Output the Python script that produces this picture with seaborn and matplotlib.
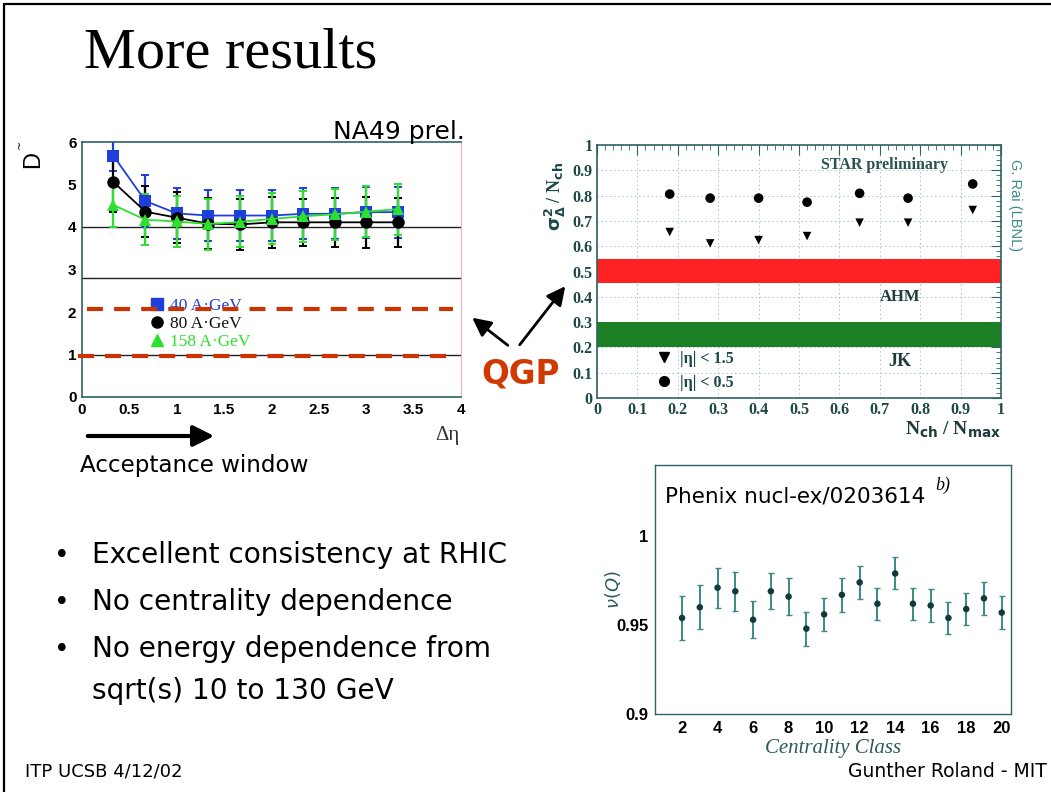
import numpy as np
import pandas as pd
import matplotlib
matplotlib.use("Agg")
import matplotlib.pyplot as plt
import seaborn as sns
from matplotlib.lines import Line2D
from matplotlib.patches import FancyArrowPatch
from matplotlib.ticker import MultipleLocator

# ---------------- data ----------------
# NA49 (left panel)
deta = [0.33, 0.67, 1.0, 1.33, 1.67, 2.0, 2.33, 2.67, 3.0, 3.33]
d_40 = [5.68, 4.61, 4.32, 4.27, 4.27, 4.27, 4.31, 4.31, 4.35, 4.35]
d_40_err = [0.36, 0.62, 0.6, 0.6, 0.6, 0.6, 0.6, 0.6, 0.6, 0.6]
d_80 = [5.06, 4.36, 4.22, 4.08, 4.06, 4.11, 4.11, 4.11, 4.11, 4.11]
d_80_err = [0.7, 0.6, 0.6, 0.6, 0.6, 0.6, 0.56, 0.58, 0.6, 0.58]
d_158 = [4.52, 4.17, 4.13, 4.07, 4.12, 4.19, 4.25, 4.3, 4.36, 4.42]
d_158_err = [0.53, 0.6, 0.6, 0.6, 0.6, 0.6, 0.6, 0.6, 0.6, 0.6]
na49_labels = ["40 A\u00b7GeV", "80 A\u00b7GeV", "158 A\u00b7GeV"]
na49_ref_lines = [4.0, 2.8, 1.0]
qgp_limits = [2.08, 0.97]

# STAR (top right panel)
nch_frac = [0.18, 0.28, 0.40, 0.52, 0.65, 0.77, 0.93]
sig_eta05 = [0.806, 0.79, 0.79, 0.774, 0.809, 0.79, 0.846]
sig_eta15 = [0.656, 0.611, 0.624, 0.64, 0.693, 0.693, 0.743]
star_labels = ["|\u03b7| < 1.5", "|\u03b7| < 0.5"]
ahm_band = (0.455, 0.55)
jk_band = (0.2, 0.3)

# PHENIX (bottom right panel)
cent_class = list(range(2, 21))
nu_q = [0.954, 0.960, 0.971, 0.969, 0.953, 0.969, 0.966, 0.948, 0.956, 0.967,
        0.974, 0.962, 0.979, 0.962, 0.961, 0.954, 0.959, 0.965, 0.957]
nu_q_err = [0.0126, 0.0123, 0.0112, 0.0111, 0.0105, 0.010, 0.0102, 0.0095, 0.0094,
            0.0097, 0.0093, 0.009, 0.009, 0.009, 0.009, 0.009, 0.009, 0.0094, 0.0093]

bullets = [["Excellent consistency at RHIC"], ["No centrality dependence"],
           ["No energy dependence from", "sqrt(s) 10 to 130 GeV"]]

# ---------------- style ----------------
sns.set_style("white")
plt.rcParams['font.family'] = ['DejaVu Sans']
plt.rcParams['lines.scale_dashes'] = False
for k in ['text.color', 'axes.labelcolor', 'xtick.color', 'ytick.color']:
    plt.rcParams[k] = 'black'

W, H = 1051, 792
fig = plt.figure(figsize=(W / 100, H / 100), dpi=100)
fig.patch.set_facecolor("white")

def fx(x):
    return x / W

def fy(y):
    return 1 - y / H

def axbox(x0, y0, x1, y1):
    return [fx(x0), fy(y1), fx(x1) - fx(x0), fy(y0) - fy(y1)]

teal = "#2d6262"
blue = "#1f3fdc"
green = "#2ee02e"

# slide frame
fig.add_artist(Line2D([fx(3.5), fx(3.5)], [0, fy(3.5)], color="black", lw=1.6))
fig.add_artist(Line2D([fx(3.5), 1], [fy(3.5), fy(3.5)], color="black", lw=1.6))

# title
fig.text(fx(84), fy(67), "More results", family="Liberation Serif", fontsize=42,
         ha="left", va="baseline", color="black")

# ---------------- NA49 panel ----------------
ax1 = fig.add_axes(axbox(82, 142, 461, 397))
df_na49 = pd.DataFrame({"deta": deta * 3,
                        "D": d_40 + d_80 + d_158,
                        "energy": [na49_labels[0]] * 10 + [na49_labels[1]] * 10 + [na49_labels[2]] * 10})
pal = {na49_labels[0]: blue, na49_labels[1]: "black", na49_labels[2]: green}
mk = {na49_labels[0]: "s", na49_labels[1]: "o", na49_labels[2]: "^"}
for lab, vals, errs in [(na49_labels[0], d_40, d_40_err),
                        (na49_labels[1], d_80, d_80_err),
                        (na49_labels[2], d_158, d_158_err)]:
    ax1.errorbar(deta, vals, yerr=errs, fmt="none", ecolor=pal[lab], elinewidth=1.6,
                 capsize=3, capthick=1.4, zorder=3)
sns.lineplot(data=df_na49, x="deta", y="D", hue="energy", style="energy",
             palette=pal, markers=mk, dashes=False, markersize=9, markeredgewidth=0,
             linewidth=1.3, ax=ax1, legend=False, zorder=4)
for yv in na49_ref_lines:
    ax1.axhline(yv, color="#222222", lw=1.0, zorder=2)
ax1.plot([0.05, 3.92], [qgp_limits[0]] * 2, color="#cc3300", lw=3, dashes=(11.5, 8),
         clip_on=False, zorder=6)
ax1.plot([-0.04, 3.85], [qgp_limits[1]] * 2, color="#cc3300", lw=3, dashes=(11.5, 8),
         clip_on=False, zorder=6)
ax1.set_xlim(0, 4)
ax1.set_ylim(0, 6)
ax1.set_xlabel("")
ax1.set_ylabel("")
ax1.xaxis.set_minor_locator(MultipleLocator(0.1))
ax1.yaxis.set_major_locator(MultipleLocator(1))
ax1.yaxis.set_minor_locator(MultipleLocator(0.2))
ax1.set_xticks([0, 0.5, 1, 1.5, 2, 2.5, 3, 3.5, 4])
ax1.set_xticklabels(["0", "0.5", "1", "1.5", "2", "2.5", "3", "3.5", "4"])
ax1.tick_params(which="both", direction="in", color=teal, top=False, right=False,
                labelsize=11, pad=4, labelcolor="black")
ax1.tick_params(which="major", length=8, width=1)
ax1.tick_params(which="minor", length=4, width=0.8)
for t in ax1.get_xticklabels() + ax1.get_yticklabels():
    t.set_fontweight("bold")
    t.set_family("Liberation Sans")
for s in ["left", "bottom", "top"]:
    ax1.spines[s].set_color(teal)
    ax1.spines[s].set_linewidth(1.2)
ax1.spines["right"].set_color("#e8b4b4")
handles = [Line2D([], [], ls="none", marker=mk[l], color=pal[l], markersize=8) for l in na49_labels]
leg = ax1.legend(handles, na49_labels, loc="upper left", bbox_to_anchor=(0.135, 0.45),
                 frameon=False, handlelength=1.0, handletextpad=0.25, labelspacing=0.1,
                 prop={"family": "Liberation Serif", "size": 12.5},
                 labelcolor=[blue, "#111111", green])
fig.text(fx(33), fy(160), "D", rotation=90, fontsize=17, ha="center", va="center",
         family="Liberation Sans")
fig.text(fx(20), fy(144), "~", rotation=90, fontsize=8, ha="center", va="center")
fig.text(fx(460), fy(440), "\u0394\u03b7", family="Liberation Serif", fontsize=15,
         ha="right", va="baseline", color="#333333")
fig.text(fx(333), fy(139), "NA49 prel.", fontsize=18, ha="left", va="baseline")

# acceptance window arrow
fig.add_artist(FancyArrowPatch((fx(85), fy(436)), (fx(217), fy(436)), transform=fig.transFigure,
                               arrowstyle="-|>,head_length=0.9,head_width=0.45",
                               mutation_scale=14, lw=3, color="black"))
fig.text(fx(80), fy(472), "Acceptance window", fontsize=16.6, ha="left", va="baseline")

# QGP
fig.text(fx(521), fy(383), "QGP", fontsize=23.5, fontweight="bold", color="#d03a00",
         ha="center", va="baseline")
fig.add_artist(FancyArrowPatch((fx(510), fy(347)), (fx(470), fy(316)), transform=fig.transFigure,
                               arrowstyle="-|>,head_length=0.8,head_width=0.4",
                               mutation_scale=14, lw=2, color="black"))
fig.add_artist(FancyArrowPatch((fx(518), fy(347)), (fx(567), fy(284)), transform=fig.transFigure,
                               arrowstyle="-|>,head_length=0.8,head_width=0.4",
                               mutation_scale=14, lw=2, color="black"))

# ---------------- STAR panel ----------------
ax2 = fig.add_axes(axbox(597, 145, 1001, 398))
ax2.axhspan(*ahm_band, color="#ff2222", lw=0, zorder=2)
ax2.axhspan(*jk_band, color="#1d7f24", lw=0, zorder=2)
sns.scatterplot(x=nch_frac, y=sig_eta05, marker="o", color="black", s=48, edgecolor="none",
                ax=ax2, zorder=4)
sns.scatterplot(x=nch_frac, y=sig_eta15, marker="v", color="black", s=38, edgecolor="none",
                ax=ax2, zorder=4)
ax2.set_xlim(0, 1)
ax2.set_ylim(0, 1)
ax2.xaxis.set_minor_locator(MultipleLocator(0.02))
ax2.yaxis.set_minor_locator(MultipleLocator(0.02))
ax2.set_xticks(np.round(np.arange(0, 1.01, 0.1), 1))
ax2.set_xticklabels(["0", "0.1", "0.2", "0.3", "0.4", "0.5", "0.6", "0.7", "0.8", "0.9", "1"])
ax2.set_yticks(np.round(np.arange(0, 1.01, 0.1), 1))
ax2.set_yticklabels(["0", "0.1", "0.2", "0.3", "0.4", "0.5", "0.6", "0.7", "0.8", "0.9", "1"])
ax2.grid(True, which="major", color="#9cc4c4", lw=0.7, ls=(0, (1, 2)), zorder=1)
ax2.set_axisbelow(True)
ax2.tick_params(which="both", direction="in", color=teal, top=True, right=True,
                labelsize=11.5, labelcolor="#1d4848", pad=3)
ax2.tick_params(which="major", length=7, width=0.8)
ax2.tick_params(which="minor", length=3.5, width=0.6)
for t in ax2.get_xticklabels() + ax2.get_yticklabels():
    t.set_fontweight("bold")
    t.set_family("Liberation Serif")
for s in ax2.spines.values():
    s.set_color(teal)
    s.set_linewidth(1.2)
h2 = [Line2D([], [], ls="none", marker="v", color="black", markersize=7),
      Line2D([], [], ls="none", marker="o", color="black", markersize=7)]
ax2.legend(h2, star_labels, loc="lower left", bbox_to_anchor=(0.115, -0.028), frameon=False,
           handlelength=0.8, handletextpad=0.6, labelspacing=0.5,
           prop={"family": "Liberation Serif", "size": 11.5, "weight": "bold"},
           labelcolor="#1d4848")
ax2.text(0.555, 0.92, "STAR preliminary", fontsize=11.5, fontweight="bold", family="Liberation Serif",
         color="#2a5252", ha="left", va="center", zorder=5)
ax2.text(0.70, 0.40, "AHM", fontsize=12, fontweight="bold", family="Liberation Serif",
         color="#1d3c3c", ha="left", va="center", zorder=5)
ax2.text(0.72, 0.145, "JK", fontsize=13, fontweight="bold", family="Liberation Serif",
         color="#1d3c3c", ha="left", va="center", zorder=5)
fig.text(fx(555), fy(196), r"$\mathbf{\sigma^2_\Delta}$ / N$_{\mathbf{ch}}$", rotation=90,
         fontsize=13, fontweight="bold", family="Liberation Serif", color="#1d4848",
         ha="center", va="center")
fig.text(fx(1001), fy(420), r"N$_{\mathbf{ch}}$ / N$_{\mathbf{max}}$", fontsize=14,
         fontweight="bold", family="Liberation Serif", color="#1d3c3c", ha="right", va="top")
fig.text(fx(1015), fy(205), "G. Rai (LBNL)", rotation=-90, fontsize=10.5, color="#3a8a8a",
         family="Liberation Sans", ha="center", va="center")

# ---------------- PHENIX panel ----------------
ax3 = fig.add_axes(axbox(655.4, 465, 1010.6, 714))
ax3.errorbar(cent_class, nu_q, yerr=nu_q_err, fmt="none", ecolor="#3a8a88", elinewidth=1.4,
             capsize=2, capthick=1, zorder=3)
sns.scatterplot(x=cent_class, y=nu_q, color="#123a3a", s=22, edgecolor="none", ax=ax3, zorder=4)
ax3.set_xlim(0.5, 20.5)
ax3.set_ylim(0.9, 1.04)
ax3.set_xticks(list(range(2, 21, 2)))
ax3.xaxis.set_minor_locator(MultipleLocator(0.5))
ax3.set_yticks([0.9, 0.95, 1.0])
ax3.set_yticklabels(["0.9", "0.95", "1"])
ax3.yaxis.set_minor_locator(MultipleLocator(0.01))
ax3.tick_params(which="both", direction="in", color=teal, top=False, right=False,
                labelsize=12, pad=5, labelcolor="black")
ax3.tick_params(which="major", length=8, width=0.9)
ax3.tick_params(which="minor", length=4, width=0.8)
for t in ax3.get_xticklabels() + ax3.get_yticklabels():
    t.set_fontweight("bold")
    t.set_family("Liberation Sans")
for s in ax3.spines.values():
    s.set_color(teal)
    s.set_linewidth(1.0)
ax3.set_xlabel("Centrality Class", family="Liberation Serif", style="italic", fontsize=15,
               color="#2f5a5a", labelpad=2)
fig.text(fx(613), fy(590), r"$\nu(Q)$", rotation=90, fontsize=13, color="#2f5a5a",
         ha="center", va="center", family="Liberation Serif")
fig.text(fx(665), fy(503), "Phenix nucl-ex/0203614", fontsize=15.5, ha="left", va="baseline")
fig.text(fx(935), fy(490), "b)", fontsize=13, style="italic", family="Liberation Serif",
         ha="left", va="baseline")

# ---------------- bullets & footer ----------------
ys = [563, 610, 657]
for yb, lines in zip(ys, bullets):
    fig.text(fx(62), fy(yb), "\u2022", fontsize=19, ha="center", va="baseline")
    for i, txt in enumerate(lines):
        fig.text(fx(92), fy(yb + 42 * i), txt, fontsize=20.2, ha="left", va="baseline")
fig.text(fx(25), fy(777), "ITP UCSB 4/12/02", fontsize=13, ha="left", va="baseline")
fig.text(fx(1047), fy(777), "Gunther Roland - MIT", fontsize=13.5, ha="right", va="baseline")

fig.savefig("out.png", dpi=100)
